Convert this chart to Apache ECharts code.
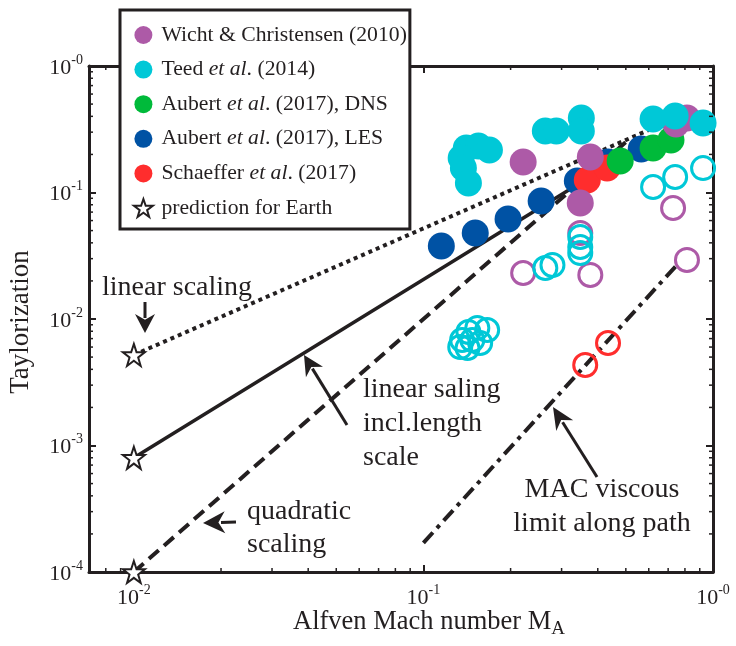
<!DOCTYPE html>
<html><head><meta charset="utf-8">
<script src="https://cdn.jsdelivr.net/npm/echarts@6/dist/echarts.min.js"></script>
<style>html,body{margin:0;padding:0;background:#fff}#c{width:736px;height:646px}</style>
</head><body><div id="c"></div>
<script>
// ---------------- data ----------------
const X_MIN = 0.007, X_MAX = 1, Y_MIN = 1e-4, Y_MAX = 1;
const xTickValues = [0.01, 0.1, 1];
const xTickExps = ['-2', '-1', '-0'];
const yTickValues = [1e-4, 1e-3, 1e-2, 1e-1, 1];
const yTickExps = ['-4', '-3', '-2', '-1', '-0'];
const xMinorTicks = [0.008, 0.009, 0.02, 0.03, 0.04, 0.05, 0.06, 0.07, 0.08, 0.09, 0.2, 0.3, 0.4, 0.5, 0.6, 0.7, 0.8, 0.9];
const yMinorTicks = [2e-4, 3e-4, 4e-4, 5e-4, 6e-4, 7e-4, 8e-4, 9e-4, 2e-3, 3e-3, 4e-3, 5e-3, 6e-3, 7e-3, 8e-3, 9e-3,
  2e-2, 3e-2, 4e-2, 5e-2, 6e-2, 7e-2, 8e-2, 9e-2, 0.2, 0.3, 0.4, 0.5, 0.6, 0.7, 0.8, 0.9];

const legendNames = ['Wicht & Christensen (2010)', 'Teed et al. (2014)', 'Aubert et al. (2017), DNS',
  'Aubert et al. (2017), LES', 'Schaeffer et al. (2017)', 'prediction for Earth'];

const wichtFilled = [[0.221, 0.174], [0.377, 0.191], [0.348, 0.0826], [0.745, 0.348], [0.813, 0.388]];
const wichtOpen = [[0.728, 0.0754], [0.348, 0.0479], [0.221, 0.0231], [0.377, 0.0223], [0.813, 0.0293]];
const teedFilled = [[0.1406, 0.2248], [0.1549, 0.233], [0.169, 0.217], [0.135, 0.1874], [0.1374, 0.156], [0.143, 0.119],
  [0.2636, 0.306], [0.2877, 0.306], [0.351, 0.388], [0.351, 0.306], [0.621, 0.381], [0.740, 0.403], [0.924, 0.354]];
const teedOpen = [[0.621, 0.1105], [0.740, 0.1326], [0.924, 0.156], [0.348, 0.0445], [0.348, 0.0371], [0.348, 0.0332],
  [0.2636, 0.0253], [0.279, 0.0267], [0.143, 0.00789], [0.1535, 0.0085], [0.166, 0.00818], [0.136, 0.00682],
  [0.1475, 0.00682], [0.142, 0.0059], [0.157, 0.00646], [0.134, 0.0060]];
const aubertDNS = [[0.478, 0.1774], [0.621, 0.225], [0.716, 0.260]];
const aubertLES = [[0.1153, 0.0378], [0.151, 0.0479], [0.196, 0.0617], [0.255, 0.0857], [0.340, 0.1233],
  [0.434, 0.174], [0.565, 0.221]];
const schaefferFilled = [[0.368, 0.1255], [0.431, 0.156]];
const schaefferOpen = [[0.434, 0.00646], [0.362, 0.00433]];
const earthPrediction = [[0.01, 0.0052], [0.01, 0.0008], [0.01, 0.0001]];

const linearScaling = [[0.01, 0.0052], [0.6, 0.312]];
const linearLengthScaling = [[0.01, 0.0008], [0.41, 0.15]];
const quadraticScaling = [[0.01, 0.0001], [0.5, 0.25]];
const macViscousLimit = [[0.1, 0.00017], [0.75, 0.0267]];

// ---------------- style ----------------
const FONT = '"Liberation Serif","Times New Roman",serif';
const INK = '#231f20';
const C = { purple: '#AD5AA7', cyan: '#00C8D7', green: '#00BA3A', blue: '#0052A4', red: '#FF2D2D' };
const STAR = 'path://M50,2 L61.5,36 L97,36 L68.5,57.5 L79,92 L50,71 L21,92 L31.5,57.5 L3,36 L38.5,36 Z';

function tickFmt(vals, exps) {
  return function (v) {
    const i = vals.findIndex(t => Math.abs(Math.log10(v) - Math.log10(t)) < 1e-6);
    return i < 0 ? '' : '{b|10}{s|' + exps[i] + '}';
  };
}
const tickRich = {
  b: { fontSize: 22, fontFamily: FONT, color: INK, lineHeight: 26, verticalAlign: 'bottom' },
  s: { fontSize: 14, fontFamily: FONT, color: INK, lineHeight: 10, verticalAlign: 'top' }
};

function axisCommon(extra) {
  return Object.assign({
    type: 'log', logBase: 10,
    axisLine: { show: true, onZero: false, lineStyle: { color: INK, width: 3 } },
    axisTick: { show: true, inside: true, length: 7, lineStyle: { color: INK, width: 2 } },
    splitLine: { show: false },
    minorTick: { show: false },
    minorSplitLine: { show: false }
  }, extra);
}

function filled(name, data, color) {
  return { type: 'scatter', name, data, symbol: 'circle', symbolSize: 27,
    itemStyle: { color, opacity: 1 }, silent: true, animation: false };
}
function hollow(name, data, color) {
  return { type: 'scatter', name, data, symbol: 'circle', symbolSize: 23,
    itemStyle: { color: 'rgba(255,255,255,0)', borderColor: color, borderWidth: 3, opacity: 1 },
    silent: true, animation: false };
}
function fitLine(name, data, type, width) {
  return { type: 'line', name, data, symbol: 'none', silent: true, animation: false,
    lineStyle: { color: INK, width, type, cap: 'butt' }, z: 1 };
}
function tickSeries(name, data, isX) {
  return {
    type: 'custom', name, data, silent: true, animation: false, clip: false, z: 3,
    renderItem: function (params, api) {
      const v = api.value(isX ? 0 : 1);
      const L = 4, st = { stroke: INK, lineWidth: 1.5 };
      if (isX) {
        const b = api.coord([v, Y_MIN]), t = api.coord([v, Y_MAX]);
        return { type: 'group', children: [
          { type: 'line', shape: { x1: b[0], y1: b[1], x2: b[0], y2: b[1] - L }, style: st },
          { type: 'line', shape: { x1: t[0], y1: t[1], x2: t[0], y2: t[1] + L }, style: st }] };
      }
      const l = api.coord([X_MIN, v]), r = api.coord([X_MAX, v]);
      return { type: 'group', children: [
        { type: 'line', shape: { x1: l[0], y1: l[1], x2: l[0] + L, y2: l[1] }, style: st },
        { type: 'line', shape: { x1: r[0], y1: r[1], x2: r[0] - L, y2: r[1] }, style: st }] };
    }
  };
}

function arrow(x1, y1, x2, y2, head, hw) {
  const dx = x2 - x1, dy = y2 - y1, len = Math.hypot(dx, dy), ux = dx / len, uy = dy / len;
  const bx = x2 - ux * head, by = y2 - uy * head, px = -uy, py = ux;
  return [
    { type: 'line', z: 20, shape: { x1, y1, x2: bx + ux * 4, y2: by + uy * 4 }, style: { stroke: INK, lineWidth: 3 } },
    { type: 'polygon', z: 20, shape: { points: [[x2, y2], [bx + px * hw, by + py * hw],
      [bx + ux * head * 0.3, by + uy * head * 0.3], [bx - px * hw, by - py * hw]] }, style: { fill: INK } }
  ];
}
function label(text, x, y, align, size) {
  return { type: 'text', z: 20, x, y, style: { text, fill: INK, font: (size || 28) + 'px ' + FONT,
    fontSize: size || 28, fontFamily: FONT, align: align || 'left', textAlign: align || 'left',
    verticalAlign: 'middle', textVerticalAlign: 'middle' } };
}

const chart = echarts.init(document.getElementById('c'), null, { renderer: 'canvas' });
chart.setOption({
  animation: false,
  backgroundColor: '#fff',
  grid: { left: 89, right: 23, top: 66, bottom: 74, containLabel: false },
  xAxis: [
    axisCommon({ min: X_MIN, max: X_MAX, position: 'bottom',
      axisLabel: { show: true, margin: 11, formatter: tickFmt(xTickValues, xTickExps), rich: tickRich,
        showMinLabel: true, showMaxLabel: true, hideOverlap: false } }),
    axisCommon({ min: X_MIN, max: X_MAX, position: 'top', axisLabel: { show: false } })
  ],
  yAxis: [
    axisCommon({ min: Y_MIN, max: Y_MAX, position: 'left',
      axisLabel: { show: true, margin: 6, align: 'right', formatter: tickFmt(yTickValues, yTickExps), rich: tickRich,
        showMinLabel: true, showMaxLabel: true, hideOverlap: false } }),
    axisCommon({ min: Y_MIN, max: Y_MAX, position: 'right', axisLabel: { show: false } })
  ],
  legend: {
    data: legendNames,
    orient: 'vertical', left: 120, top: 10,
    padding: [14, 3, 10, 13], itemGap: 12.6,
    itemWidth: 26, itemHeight: 18,
    backgroundColor: '#fff', borderColor: INK, borderWidth: 3, borderRadius: 0,
    selectedMode: false, z: 10,
    formatter: function (name) {
      return '{n|' + name.replace('et al.', '}{i|et al}{n|.') + '}';
    },
    textStyle: {
      fontFamily: FONT, fontSize: 21.7, color: INK,
      rich: {
        n: { fontFamily: FONT, fontSize: 21.7, color: INK, lineHeight: 22 },
        i: { fontFamily: FONT, fontSize: 21.7, color: INK, lineHeight: 22, fontStyle: 'italic' }
      }
    }
  },
  graphic: [
    { type: 'text', z: 20, x: 21, y: 322, rotation: Math.PI / 2,
      style: { text: 'Taylorization', fill: INK, fontSize: 27, fontFamily: FONT,
        align: 'center', textAlign: 'center', verticalAlign: 'middle', textVerticalAlign: 'middle' } },
    { type: 'text', z: 20, x: 293, y: 624,
      style: { text: '{n|Alfven Mach number M}{sub|A}', fill: INK, fontSize: 26.5, fontFamily: FONT,
        align: 'left', textAlign: 'left', verticalAlign: 'middle', textVerticalAlign: 'middle',
        rich: { n: { fontSize: 26.5, fontFamily: FONT, fill: INK, color: INK, lineHeight: 30, verticalAlign: 'top' },
                sub: { fontSize: 19, fontFamily: FONT, fill: INK, color: INK, lineHeight: 18, verticalAlign: 'bottom' } } } },
    label('linear scaling', 102, 288),
    ...arrow(145, 302, 145, 333, 19, 10),
    label('linear saling', 363, 390),
    label('incl.length', 363, 424),
    label('scale', 363, 458),
    ...arrow(347, 425, 304, 355, 20, 10),
    label('quadratic', 247, 512),
    label('scaling', 247, 545),
    ...arrow(236, 522, 203, 523, 22, 11),
    label('MAC viscous', 602, 490, 'center'),
    label('limit along path', 602, 524, 'center'),
    ...arrow(597, 477, 553, 407, 22, 10)
  ],
  series: [
    fitLine('linear', linearScaling, [4, 4], 4),
    fitLine('linear length', linearLengthScaling, 'solid', 3.5),
    fitLine('quadratic', quadraticScaling, [13, 7], 4),
    fitLine('MAC', macViscousLimit, [14, 6, 4, 6], 4),
    tickSeries('xminor', xMinorTicks.map(v => [v, Y_MIN]), true),
    tickSeries('yminor', yMinorTicks.map(v => [X_MIN, v]), false),
    hollow('Wicht open', wichtOpen, C.purple),
    hollow('Teed open', teedOpen, C.cyan),
    hollow('Schaeffer open', schaefferOpen, C.red),
    filled('Aubert et al. (2017), LES', aubertLES, C.blue),
    filled('Schaeffer et al. (2017)', schaefferFilled, C.red),
    filled('Aubert et al. (2017), DNS', aubertDNS, C.green),
    filled('Wicht & Christensen (2010)', wichtFilled, C.purple),
    filled('Teed et al. (2014)', teedFilled, C.cyan),
    { type: 'scatter', name: 'prediction for Earth', data: earthPrediction, symbol: STAR, symbolSize: 22,
      itemStyle: { color: '#fff', borderColor: INK, borderWidth: 2, opacity: 1 }, z: 5, silent: true, animation: false }
  ]
});
</script>
</body></html>
